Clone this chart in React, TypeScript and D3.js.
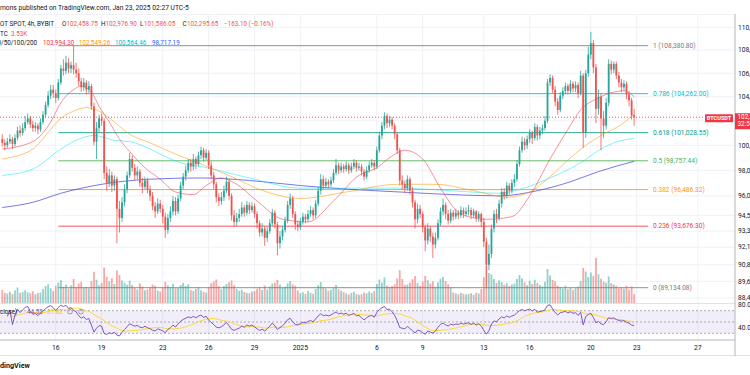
import React from "react";
import * as d3 from "d3";

// ---- DATA (prices in thousands USDT, 4h candles, BYBIT BTCUSDT) ----
const candleStartUTC = Date.UTC(2024, 11, 12, 15); // first visible candle (chart time)
const firstOpen = 100.5;

const closes = [
  100.2, 100.0, 100.3,
  100.5, 100.1, 100.6, 101.2, 101.0, 101.4, // Dec13
  101.9, 102.2, 101.7, 101.4, 101.6, 101.3, // Dec14
  101.9, 102.5, 103.3, 104.1, 104.6, 104.3, // Dec15
  103.9, 105.2, 106.4, 106.2, 106.9, 106.4, // Dec16
  106.7, 106.3, 106.0, 105.3, 104.8, 105.2, // Dec17
  104.6, 104.9, 103.2, 100.3, 101.4, 102.2, // Dec18
  102.0, 97.8, 97.0, 97.6, 96.8, 97.3, // Dec19
  95.0, 94.3, 95.5, 96.5, 97.6, 98.9, // Dec20
  98.2, 97.6, 97.9, 97.0, 96.7, 97.2, // Dec21
  96.5, 96.0, 95.2, 94.8, 95.4, 95.0, // Dec22
  94.4, 93.4, 94.3, 94.8, 95.6, 94.8, // Dec23
  95.8, 96.8, 97.5, 98.0, 98.6, 98.3, // Dec24
  98.9, 98.5, 99.2, 99.6, 99.0, 99.4, // Dec25
  98.4, 97.6, 96.9, 95.9, 95.6, 95.9, // Dec26
  96.4, 97.1, 96.0, 94.5, 94.0, 94.3, // Dec27
  94.6, 95.1, 94.7, 95.3, 94.9, 95.2, // Dec28
  94.6, 93.9, 93.2, 93.5, 92.8, 93.3, // Dec29
  93.9, 94.7, 93.8, 92.4, 92.9, 93.4, // Dec30
  94.1, 95.3, 95.8, 94.6, 93.8, 93.6, // Dec31
  94.0, 94.4, 94.2, 94.6, 94.9, 94.5, // Jan1
  95.4, 96.4, 97.3, 96.8, 97.1, 96.9, // Jan2
  97.2, 97.8, 98.4, 98.0, 98.3, 98.1, // Jan3
  98.4, 98.0, 98.3, 98.6, 98.2, 98.3, // Jan4
  97.9, 97.5, 98.0, 98.4, 98.6, 98.3, // Jan5
  99.6, 100.8, 101.6, 102.4, 101.8, 102.1, // Jan6
  101.6, 100.9, 99.6, 97.2, 96.9, 96.6, // Jan7
  97.3, 96.4, 95.5, 94.2, 95.0, 94.6, // Jan8
  93.6, 92.6, 93.5, 92.9, 92.3, 92.8, // Jan9
  93.9, 94.8, 95.3, 94.6, 94.1, 94.7, // Jan10
  94.4, 94.7, 94.5, 94.9, 94.6, 94.8, // Jan11
  94.9, 94.5, 94.8, 94.3, 94.6, 94.0, // Jan12
  92.5, 90.8, 91.6, 93.5, 94.6, 94.3, // Jan13
  95.4, 96.3, 96.0, 96.8, 96.4, 97.0, // Jan14
  97.3, 98.5, 99.6, 100.3, 100.0, 100.5, // Jan15
  101.0, 100.6, 101.5, 100.8, 101.2, 101.4, // Jan16
  102.0, 105.2, 105.6, 104.6, 103.6, 102.9, // Jan17
  104.1, 104.5, 104.9, 104.5, 105.1, 104.7, // Jan18
  105.0, 104.3, 105.8, 101.0, 106.0, 107.6, // Jan19
  108.6, 106.5, 103.0, 104.0, 102.2, 101.6, // Jan20
  103.5, 106.8, 106.3, 106.8, 105.8, 105.2, // Jan21
  104.8, 105.1, 104.2, 103.7, 102.45875, 102.29565, // Jan22
];

const highs = [
  100.9, 100.5, 100.6,
  100.9, 100.7, 100.9, 101.5, 101.6, 101.8,
  102.4, 102.6, 102.4, 102.0, 101.9, 101.8,
  102.2, 102.8, 103.6, 104.5, 105.0, 105.0,
  104.6, 105.5, 106.7, 107.2, 107.5, 107.3,
  107.0, 108.3808, 106.9, 106.4, 105.6, 105.6,
  105.4, 105.3, 105.1, 103.5, 101.9, 102.5,
  102.6, 102.2, 98.3, 98.1, 97.9, 97.6,
  97.5, 95.6, 95.9, 96.9, 97.9, 99.4,
  99.2, 98.5, 98.3, 98.1, 97.4, 97.5,
  97.4, 96.8, 96.3, 95.5, 95.8, 95.7,
  95.3, 94.7, 94.6, 95.2, 96.0, 95.9,
  96.1, 97.1, 97.8, 98.4, 98.9, 98.9,
  99.3, 99.1, 99.5, 99.9, 99.8, 99.7,
  99.6, 98.7, 97.9, 97.1, 96.2, 96.3,
  96.8, 97.5, 97.3, 96.2, 94.9, 94.7,
  95.0, 95.5, 95.3, 95.6, 95.5, 95.5,
  95.4, 94.8, 94.1, 93.9, 93.7, 93.6,
  94.2, 95.0, 94.9, 94.0, 93.3, 93.7,
  94.4, 95.6, 96.2, 96.0, 94.8, 94.1,
  94.3, 94.7, 94.6, 94.9, 95.2, 95.1,
  95.7, 96.7, 97.7, 97.6, 97.4, 97.3,
  97.5, 98.1, 98.9, 98.6, 98.6, 98.5,
  98.7, 98.6, 98.6, 98.9, 98.8, 98.6,
  98.5, 98.1, 98.3, 98.7, 98.9, 98.8,
  99.9, 101.1, 101.9, 102.7, 102.6, 102.4,
  102.3, 101.8, 101.1, 99.8, 97.6, 97.2,
  97.6, 97.5, 96.7, 95.7, 95.4, 95.3,
  94.8, 93.8, 93.9, 93.7, 93.2, 93.2,
  94.2, 95.1, 95.8, 95.5, 94.9, 95.0,
  94.9, 95.0, 94.9, 95.2, 95.1, 95.1,
  95.3, 95.1, 95.0, 94.9, 94.8, 94.7,
  94.3, 92.8, 92.3, 93.8, 94.9, 95.0,
  95.7, 96.6, 96.6, 97.1, 97.0, 97.3,
  97.7, 98.8, 99.9, 100.7, 100.6, 100.8,
  101.3, 101.2, 101.8, 101.7, 101.5, 101.7,
  102.4, 105.5, 105.9, 105.8, 104.9, 103.9,
  104.4, 104.8, 105.2, 105.1, 105.4, 105.3,
  105.3, 105.2, 106.2, 106.0, 106.3, 108.3,
  109.6, 108.9, 106.8, 104.6, 104.3, 102.8,
  103.9, 107.2, 107.1, 107.0, 107.0, 106.1,
  105.5, 105.4, 105.3, 104.5, 103.9, 102.9769,
];

const lows = [
  99.9, 99.6, 99.8,
  100.1, 99.7, 99.9, 100.4, 100.7, 100.8,
  101.2, 101.7, 101.4, 101.1, 101.1, 100.9,
  101.1, 101.7, 102.3, 103.1, 103.8, 103.9,
  103.5, 103.7, 105.0, 105.8, 105.9, 106.0,
  106.0, 105.9, 105.6, 104.9, 104.4, 104.5,
  104.2, 104.3, 102.9, 100.0, 98.9, 101.0,
  101.6, 97.3, 96.4, 96.7, 96.3, 96.4,
  92.4, 93.2, 94.0, 95.2, 96.2, 97.4,
  97.9, 97.2, 97.3, 96.7, 96.2, 96.5,
  96.2, 95.6, 94.9, 94.3, 94.6, 94.7,
  93.9, 92.8, 93.1, 94.0, 94.5, 94.5,
  94.6, 95.6, 96.5, 97.2, 97.8, 97.9,
  98.0, 98.1, 98.3, 98.9, 98.7, 98.8,
  98.1, 97.3, 96.5, 95.5, 95.2, 95.3,
  95.6, 96.2, 95.7, 94.1, 93.6, 93.7,
  94.0, 94.4, 94.4, 94.5, 94.6, 94.7,
  94.3, 93.5, 92.9, 92.9, 92.2, 92.5,
  93.1, 93.7, 93.5, 91.5, 92.0, 92.6,
  93.2, 93.9, 95.0, 94.3, 93.4, 93.3,
  93.4, 93.8, 93.9, 94.0, 94.4, 94.2,
  94.3, 95.2, 96.1, 96.5, 96.6, 96.6,
  96.7, 97.0, 97.6, 97.7, 97.8, 97.8,
  97.9, 97.7, 97.8, 98.1, 97.9, 98.0,
  97.6, 97.2, 97.3, 97.8, 98.2, 98.0,
  98.1, 99.4, 100.5, 101.3, 101.4, 101.5,
  101.3, 100.5, 99.3, 96.8, 96.5, 96.2,
  96.4, 96.1, 95.1, 93.5, 93.9, 94.3,
  93.2, 91.8, 92.3, 92.5, 91.3, 92.0,
  92.6, 93.7, 94.5, 94.2, 93.8, 93.9,
  94.1, 94.2, 94.2, 94.3, 94.3, 94.4,
  94.5, 94.2, 94.3, 94.0, 94.0, 93.6,
  92.1, 89.13408, 90.4, 91.3, 93.2, 93.9,
  94.1, 95.1, 95.7, 95.8, 96.1, 96.2,
  96.7, 97.1, 98.3, 99.4, 99.6, 99.7,
  100.2, 100.1, 100.4, 100.4, 100.5, 100.9,
  101.2, 101.8, 104.9, 104.3, 103.2, 102.5,
  102.7, 103.8, 104.2, 104.2, 104.3, 104.4,
  104.4, 103.9, 104.1, 99.8, 100.6, 105.7,
  107.2, 106.0, 101.8, 102.5, 99.6, 100.6,
  101.3, 103.2, 105.9, 106.0, 105.5, 104.8,
  104.4, 104.5, 103.8, 103.2, 102.1, 101.58605,
];

// volume in K BTC
const volumes = [
  5.2, 4.1, 3.8,
  4.5, 3.6, 5.0, 6.2, 4.0, 4.4,
  5.1, 4.3, 3.9, 4.7, 3.5, 4.0,
  4.2, 5.6, 6.8, 7.5, 5.9, 4.8,
  6.9, 8.2, 9.1, 6.5, 7.4, 5.8,
  7.0, 9.6, 6.3, 7.8, 8.5, 6.1,
  6.4, 5.9, 8.8, 12.5, 9.3, 7.1,
  8.0, 14.2, 10.5, 8.7, 9.9, 7.6,
  13.0, 11.2, 9.0, 8.1, 7.3, 8.9,
  7.2, 6.0, 5.4, 7.9, 6.6, 5.1,
  5.5, 6.2, 7.4, 6.9, 5.0, 4.6,
  6.1, 8.4, 7.0, 6.3, 7.7, 5.9,
  6.0, 7.2, 8.0, 6.8, 7.5, 5.2,
  4.8, 5.6, 6.4, 5.1, 4.5, 4.2,
  6.3, 7.9, 8.6, 9.4, 6.7, 5.5,
  6.8, 7.6, 8.3, 9.0, 7.1, 5.6,
  4.9, 5.3, 4.4, 4.1, 3.9, 4.6,
  4.8, 5.7, 6.4, 5.2, 7.0, 5.4,
  6.6, 7.8, 8.1, 9.2, 7.3, 6.0,
  6.5, 7.9, 8.8, 7.4, 6.9, 5.0,
  3.9, 4.3, 3.6, 4.8, 4.1, 3.7,
  5.6, 7.1, 8.4, 6.2, 5.8, 4.9,
  5.3, 6.0, 7.2, 5.5, 4.9, 4.4,
  3.8, 3.4, 4.0, 4.5, 3.6, 3.3,
  3.5, 4.2, 3.9, 4.6, 4.0, 4.8,
  7.6, 9.4, 8.1, 10.2, 7.0, 6.4,
  6.8, 7.5, 9.8, 13.1, 9.6, 7.2,
  7.4, 8.2, 9.5, 10.8, 8.0, 6.9,
  8.6, 10.9, 9.1, 7.8, 8.7, 6.5,
  8.3, 9.7, 10.4, 8.8, 7.5, 6.2,
  4.2, 3.8, 3.5, 4.0, 3.7, 3.4,
  3.6, 3.9, 3.3, 4.1, 3.8, 5.6,
  10.3, 14.8, 12.0, 11.4, 9.6, 8.1,
  9.0, 8.4, 7.3, 7.9, 6.8, 7.4,
  7.8, 9.6, 11.2, 9.9, 8.3, 7.1,
  8.9, 7.6, 9.3, 8.0, 7.2, 6.6,
  8.5, 13.6, 11.0, 9.2, 8.7, 7.0,
  6.4, 5.8, 6.9, 5.5, 6.1, 5.2,
  5.9, 6.6, 8.8, 14.0, 12.6, 10.4,
  12.2, 10.8, 18.0, 11.5, 9.7, 8.6,
  8.1, 10.6, 7.9, 7.4, 6.8, 5.9,
  6.3, 5.7, 6.9, 5.4, 6.6, 3.53,
];

// moving averages: [candle index, price k]
const ma20Pts = [
  [0, 99.7], [12, 100.3], [19, 101.9], [23, 103.5], [28, 104.6], [31, 104.9], [35, 104.4],
  [38, 103.2], [42, 101.9], [46, 100.5], [50, 99.5], [56, 98.2], [62, 97.3], [68, 96.3],
  [75, 96.1], [80, 96.8], [86, 97.4], [92, 96.9], [100, 95.6], [110, 94.2], [120, 94.0],
  [130, 95.6], [140, 97.6], [147, 98.2], [152, 99.0], [158, 99.6], [165, 98.9], [172, 96.6],
  [180, 94.6], [190, 94.2], [200, 94.4], [207, 96.0], [215, 98.9], [222, 101.3], [227, 102.9],
  [234, 103.9], [240, 104.4], [244, 104.5], [248, 103.994],
];
const ma50Pts = [
  [0, 98.9], [12, 99.7], [19, 101.3], [23, 102.2], [28, 102.8], [33, 103.1], [38, 102.8],
  [44, 101.9], [50, 100.9], [58, 100.2], [68, 99.3], [78, 98.5], [90, 97.5], [101, 96.5],
  [117, 95.8], [135, 96.3], [155, 96.9], [170, 96.9], [185, 96.4], [198, 95.9], [207, 96.3],
  [215, 97.5], [223, 99.0], [229, 100.0], [235, 100.8], [243, 101.7], [248, 102.549],
];
const ma100Pts = [
  [0, 97.6], [12, 98.1], [23, 99.7], [30, 100.5], [36, 100.8], [44, 100.4], [50, 100.3],
  [58, 99.7], [64, 99.1], [70, 98.6], [78, 98.3], [97, 97.4], [117, 96.6], [137, 96.6],
  [156, 96.6], [176, 96.4], [195, 96.2], [203, 96.5], [215, 97.4], [227, 98.6], [235, 99.7],
  [240, 100.2], [248, 100.564],
];
const ma200Pts = [
  [0, 95.1], [12, 95.5], [23, 96.2], [39, 96.9], [58, 97.3], [78, 97.4], [97, 97.2],
  [117, 96.8], [137, 96.5], [156, 96.3], [176, 96.1], [195, 96.0], [210, 96.4], [223, 97.1],
  [234, 97.9], [248, 98.717],
];

const fibLowPrice = 89134.08;
const fibHighPrice = 108380.8;
const fibLevels = [1, 0.786, 0.618, 0.5, 0.382, 0.236, 0];
const fibColors = ["#787b86", "#00bcd4", "#089981", "#4caf50", "#ff9800", "#f23645", "#787b86"];
const fibStartIdx = 22;
const fibEndIdx = 253.5;

const priceTicks = [110000, 108000, 106000, 104000, 102000, 100000, 98000, 96000, 94500, 93300, 92100, 90800, 89600, 88400];
const rsiTicks = [80, 40];
const rsiLevels = [70, 50, 30];
const timeTickDates = [
  [2024, 11, 16], [2024, 11, 19], [2024, 11, 23], [2024, 11, 26], [2024, 11, 29], [2025, 0, 1],
  [2025, 0, 6], [2025, 0, 9], [2025, 0, 13], [2025, 0, 16], [2025, 0, 20], [2025, 0, 23], [2025, 0, 27],
];
const timeTickLabels = ["16", "19", "23", "26", "29", "2025", "6", "9", "13", "16", "20", "23", "27"];

const FONT = "Roboto, 'Liberation Sans', Arial, sans-serif";
const UP = "#26a69a";
const DOWN = "#ef5350";

export default function App() {
  const N = closes.length;
  const H4 = 4 * 3600 * 1000;
  const timeOf = (i: number) => new Date(candleStartUTC + i * H4);
  const x = d3.scaleTime().domain([timeOf(0), timeOf(N - 1)]).range([2.25, 634.15]);
  const y = d3.scaleLog().domain([fibLowPrice, fibHighPrice]).range([287.7, 45.7]);
  const yv = d3.scaleLinear().domain([0, 18]).range([303, 258]);
  const yr = d3.scaleLinear().domain([30, 70]).range([333.3, 310.7]);
  const K = (v: number) => v * 1000;
  const opens = closes.map((c, i) => (i === 0 ? firstOpen : closes[i - 1]));
  const fmt2 = d3.format(",.2f");
  const fmtTrunc = (v: number) => fmt2(Math.floor(v * 100 + 1e-6) / 100);

  // RSI(14) computed from closes (Wilder smoothing), and its 14-period SMA
  const rsi: number[] = [];
  let ag = 0, al = 0;
  for (let i = 1; i < N; i++) {
    const ch = closes[i] - closes[i - 1];
    const g = Math.max(ch, 0), l = Math.max(-ch, 0);
    const n = Math.min(i, 14);
    ag = (ag * (n - 1) + g) / n;
    al = (al * (n - 1) + l) / n;
    rsi[i] = al === 0 ? 100 : 100 - 100 / (1 + ag / al);
  }
  const rsiStart = 2;
  const rsiPts: [number, number][] = [];
  const rsiMaPts: [number, number][] = [];
  for (let i = rsiStart; i < N; i++) {
    rsiPts.push([i, rsi[i]]);
    const from = Math.max(rsiStart, i - 13);
    rsiMaPts.push([i, d3.mean(rsi.slice(from, i + 1)) as number]);
  }

  const maLine = d3
    .line<number[]>()
    .x((d) => x(timeOf(d[0])))
    .y((d) => y(K(d[1])))
    .curve(d3.curveMonotoneX);
  const rsiLine = d3
    .line<[number, number]>()
    .x((d) => x(timeOf(d[0])))
    .y((d) => yr(d[1]));

  const bodyW = 1.8;
  const lastPrice = K(closes[N - 1]);
  const lastY = y(lastPrice);
  const tickXs = timeTickDates.map((d) => x(new Date(Date.UTC(d[0], d[1], d[2], 3))));
  const visiblePriceTicks = priceTicks.filter((p) => {
    const py = y(p);
    return py < lastY - 8 || py > lastY + 15;
  });

  return (
    <svg
      width={750}
      height={375}
      style={{ position: "absolute", left: 0, top: 0, display: "block", background: "#fff" }}
      fontFamily={FONT}
    >
      <defs>
        <clipPath id="mainClip">
          <rect x={0} y={14} width={735} height={289} />
        </clipPath>
        <clipPath id="rsiClip">
          <rect x={0} y={304} width={735} height={36} />
        </clipPath>
      </defs>
      <rect x={0} y={0} width={750} height={375} fill="#ffffff" />

      {/* grid */}
      {tickXs.map((tx, i) => (
        <line key={"vg" + i} x1={tx} x2={tx} y1={14} y2={340} stroke="#eef1f6" strokeWidth={1} />
      ))}
      {priceTicks.map((p) => (
        <line key={"hg" + p} x1={0} x2={735} y1={y(p)} y2={y(p)} stroke="#eef1f6" strokeWidth={1} />
      ))}
      <line x1={0} x2={735} y1={14.5} y2={14.5} stroke="#eef1f6" />

      <g clipPath="url(#mainClip)">
        {/* volume */}
        {volumes.map((v, i) => (
          <rect
            key={"v" + i}
            x={x(timeOf(i)) - bodyW / 2}
            y={yv(v)}
            width={bodyW}
            height={yv(0) - yv(v)}
            fill={closes[i] >= opens[i] ? "rgba(38,166,154,0.5)" : "rgba(239,83,80,0.5)"}
          />
        ))}

        {/* fib retracement */}
        {fibLevels.map((lv, i) => {
          const p = fibLowPrice + (fibHighPrice - fibLowPrice) * lv;
          return (
            <g key={"fib" + lv}>
              <line
                x1={x(timeOf(fibStartIdx))}
                x2={x(timeOf(fibEndIdx))}
                y1={y(p)}
                y2={y(p)}
                stroke={fibColors[i]}
                strokeOpacity={0.85}
                strokeWidth={1}
              />
              <text x={653} y={y(p)} dy="0.35em" fontSize={6.6} fill={fibColors[i]}>
                {`${lv} (${fmtTrunc(p)})`}
              </text>
            </g>
          );
        })}

        {/* moving averages */}
        <path d={maLine(ma200Pts) || ""} fill="none" stroke="#3f3fe0" strokeOpacity={0.7} strokeWidth={1} />
        <path d={maLine(ma100Pts) || ""} fill="none" stroke="#00e5ff" strokeOpacity={0.5} strokeWidth={1} />
        <path d={maLine(ma50Pts) || ""} fill="none" stroke="#ff9800" strokeOpacity={0.55} strokeWidth={1} />
        <path d={maLine(ma20Pts) || ""} fill="none" stroke="#f23645" strokeOpacity={0.55} strokeWidth={1} />

        {/* current price line */}
        <line x1={0} x2={735} y1={lastY} y2={lastY} stroke={DOWN} strokeWidth={1} strokeDasharray="1,2" />

        {/* candles */}
        {closes.map((c, i) => {
          const o = opens[i];
          const cx = x(timeOf(i));
          const col = c >= o ? UP : DOWN;
          const top = y(K(Math.max(o, c)));
          const bot = y(K(Math.min(o, c)));
          return (
            <g key={"c" + i}>
              <line x1={cx} x2={cx} y1={y(K(highs[i]))} y2={y(K(lows[i]))} stroke={col} strokeWidth={0.8} />
              <rect x={cx - bodyW / 2} y={top} width={bodyW} height={Math.max(0.8, bot - top)} fill={col} />
            </g>
          );
        })}
      </g>

      {/* RSI pane */}
      <line x1={0} x2={735} y1={303.5} y2={303.5} stroke="#e0e3eb" />
      <g clipPath="url(#rsiClip)">
        <rect x={0} y={yr(70)} width={735} height={yr(30) - yr(70)} fill="rgba(126,87,194,0.1)" />
        {rsiLevels.map((lv) => (
          <line
            key={"rl" + lv}
            x1={0}
            x2={735}
            y1={yr(lv)}
            y2={yr(lv)}
            stroke="#787b86"
            strokeOpacity={0.6}
            strokeDasharray="2,2"
          />
        ))}
        <path d={rsiLine(rsiMaPts) || ""} fill="none" stroke="#fdd835" strokeWidth={1} />
        <path d={rsiLine(rsiPts) || ""} fill="none" stroke="#7e57c2" strokeWidth={1} />
      </g>

      {/* axes frame */}
      <line x1={0} x2={735} y1={340} y2={340} stroke="#b2b5be" />
      <line x1={0} x2={750} y1={355.5} y2={355.5} stroke="#e0e3eb" />
      <line x1={735} x2={735} y1={14} y2={356} stroke="#b2b5be" />

      {/* price axis labels */}
      {visiblePriceTicks.map((p) => (
        <text key={"pl" + p} x={738} y={y(p)} dy="0.35em" fontSize={6.6} fill="#131722">
          {fmt2(p)}
        </text>
      ))}
      {rsiTicks.map((v) => (
        <text key={"rt" + v} x={738} y={yr(v)} dy="0.35em" fontSize={6.6} fill="#131722">
          {v.toFixed(2)}
        </text>
      ))}

      {/* last price labels */}
      <rect x={705} y={lastY - 3} width={28} height={8} fill="#f23645" rx={1} />
      <text x={719} y={lastY + 1} dy="0.35em" fontSize={5.6} fill="#fff" textAnchor="middle" fontWeight="bold">
        BTCUSDT
      </text>
      <rect x={735} y={lastY - 4} width={16} height={16} fill="#f23645" />
      <text x={737.5} y={lastY} dy="0.35em" fontSize={6.4} fill="#fff">
        {fmt2(lastPrice)}
      </text>
      <text x={737.5} y={lastY + 7} dy="0.35em" fontSize={6.4} fill="#fff">
        32:51
      </text>

      {/* time axis labels */}
      {tickXs.map((tx, i) => (
        <text key={"tl" + i} x={tx} y={347.5} dy="0.35em" fontSize={6.8} fill="#131722" textAnchor="middle">
          {timeTickLabels[i]}
        </text>
      ))}

      {/* header / legends */}
      <text x={0} y={9.8} fontSize={6.7} fill="#131722">
        mons published on TradingView.com, Jan 23, 2025 02:27 UTC-5
      </text>
      <g fontSize={6.3}>
        <text x={0} y={25.8} fill="#131722">OT SPOT, 4h, BYBIT</text>
        <text x={62} y={25.8} fill="#131722">O</text>
        <text x={66.5} y={25.8} fill={DOWN}>102,458.75</text>
        <text x={101} y={25.8} fill="#131722">H</text>
        <text x={105.5} y={25.8} fill={DOWN}>102,976.90</text>
        <text x={140} y={25.8} fill="#131722">L</text>
        <text x={144} y={25.8} fill={DOWN}>101,586.05</text>
        <text x={182.5} y={25.8} fill="#131722">C</text>
        <text x={187} y={25.8} fill={DOWN}>102,295.65</text>
        <text x={224} y={25.8} fill={DOWN}>−163.10 (−0.16%)</text>

        <text x={0} y={35.8} fill="#131722">TC</text>
        <text x={11} y={35.8} fill={DOWN}>3.53K</text>

        <text x={-2.5} y={44.6} fill="#131722">0/50/100/200</text>
        <text x={43} y={44.6} fill="#f23645">103,994.30</text>
        <text x={79} y={44.6} fill="#ff9800">102,549.26</text>
        <text x={115} y={44.6} fill="#00bcd4">100,564.46</text>
        <text x={152} y={44.6} fill="#2962ff">98,717.19</text>

        <text x={0} y={314} fill="#131722">close)</text>
        <text x={27} y={314} fill="#7e57c2">44.52</text>
        <text x={47} y={314} fill="#e6c229">51.62</text>
      </g>
      <circle cx={70} cy={311.7} r={2.3} fill="none" stroke="#787b86" strokeWidth={0.7} />
      <circle cx={81} cy={311.7} r={2.3} fill="none" stroke="#787b86" strokeWidth={0.7} />

      <text x={0} y={367.5} fontSize={7.2} fill="#131722" fontWeight="bold">
        dingView
      </text>
    </svg>
  );
}
